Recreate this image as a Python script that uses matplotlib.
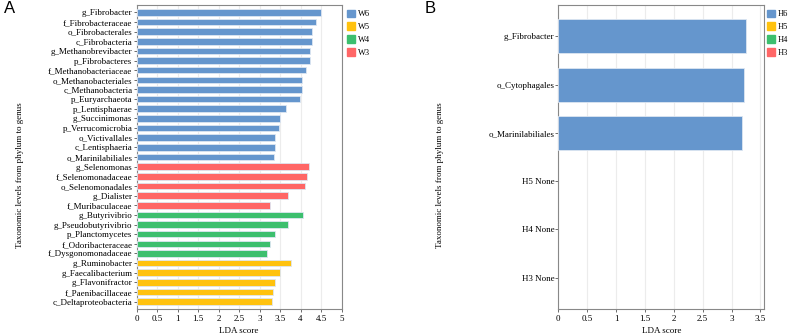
import matplotlib.pyplot as plt
from matplotlib.patches import Patch

# panel A data (top to bottom)
taxa_a = ["g_Fibrobacter", "f_Fibrobacteraceae", "o_Fibrobacterales", "c_Fibrobacteria",
          "g_Methanobrevibacter", "p_Fibrobacteres", "f_Methanobacteriaceae",
          "o_Methanobacteriales", "c_Methanobacteria", "p_Euryarchaeota", "p_Lentisphaerae",
          "g_Succinimonas", "p_Verrucomicrobia", "o_Victivallales", "c_Lentisphaeria",
          "o_Marinilabiliales",
          "g_Selenomonas", "f_Selenomonadaceae", "o_Selenomonadales", "g_Dialister",
          "f_Muribaculaceae",
          "g_Butyrivibrio", "g_Pseudobutyrivibrio", "p_Planctomycetes", "f_Odoribacteraceae",
          "f_Dysgonomonadaceae",
          "g_Ruminobacter", "g_Faecalibacterium", "g_Flavonifractor", "f_Paenibacillaceae",
          "c_Deltaproteobacteria"]
lda_a = [4.51, 4.38, 4.29, 4.27, 4.24, 4.22, 4.13, 4.04, 4.03, 3.98, 3.64, 3.51, 3.48,
         3.37, 3.37, 3.35,
         4.20, 4.16, 4.11, 3.69, 3.26,
         4.05, 3.69, 3.39, 3.26, 3.18,
         3.76, 3.49, 3.37, 3.34, 3.31]
group_a = ["W6"] * 16 + ["W3"] * 5 + ["W4"] * 5 + ["W5"] * 5
legend_a = ["W6", "W5", "W4", "W3"]

# panel B data
taxa_b = ["g_Fibrobacter", "o_Cytophagales", "o_Marinilabiliales", "H5 None", "H4 None", "H3 None"]
lda_b = [3.25, 3.21, 3.18, 0, 0, 0]
group_b = ["H6", "H6", "H6", "H5", "H4", "H3"]
legend_b = ["H6", "H5", "H4", "H3"]

palette = ["#6596CD", "#FFC20E", "#3CBF6E", "#FF6666"]

plt.rcParams['font.family'] = ['Liberation Serif', 'DejaVu Serif']

fig = plt.figure(figsize=(7.94, 3.34), dpi=100)
W, H = 794, 334


def panel(rect, taxa, vals, groups, legend_names, xmax, xticks, ylim, height, leg_x):
    ax = fig.add_axes([rect[0] / W, 1 - rect[3] / H, (rect[2] - rect[0]) / W, (rect[3] - rect[1]) / H])
    cmap = dict(zip(legend_names, palette))
    y = list(range(len(taxa)))
    ax.barh(y, vals, height=height, color=[cmap[g] for g in groups],
            edgecolor="#dde6f2", linewidth=[0.6 if v > 0 else 0 for v in vals], zorder=3)
    ax.set_yticks(y)
    ax.set_yticklabels(taxa, fontsize=6.5)
    ax.set_ylim(*ylim)
    ax.set_xlim(0, xmax)
    ax.set_xticks(xticks)
    ax.set_xticklabels([f"{t:g}" for t in xticks], fontsize=6.5)
    ax.grid(axis="x", color="#ececec", linewidth=0.8, zorder=0)
    ax.tick_params(axis="y", length=2, width=0.6, color="#555555", pad=1)
    ax.tick_params(axis="x", length=2, width=0.6, color="#555555", pad=2)
    for s in ax.spines.values():
        s.set_color("#888888")
        s.set_linewidth(0.8)
    ax.set_xlabel("LDA score", fontsize=6.5, labelpad=3)
    handles = [Patch(color=cmap[n], label=n) for n in legend_names]
    ax.legend(handles=handles, loc="upper left", bbox_to_anchor=(leg_x, 0.985),
              frameon=False, fontsize=6.0, handlelength=1.0, handleheight=1.05,
              handletextpad=0.3, labelspacing=0.5, borderaxespad=0, borderpad=0)
    return ax


ax_a = panel((136.5, 5, 341.5, 309), taxa_a, lda_a, group_a, legend_a, 5,
             [0, 0.5, 1, 1.5, 2, 2.5, 3, 3.5, 4, 4.5, 5], (30.76, -0.76), 0.68, 1.027)
ax_b = panel((558.3, 5, 764.5, 309), taxa_b, lda_b, group_b, legend_b, 3.57,
             [0, 0.5, 1, 1.5, 2, 2.5, 3, 3.5], (5.65, -0.65), 0.7, 1.01)

fig.text(20 / W, 0.5 - 8 / H, "Taxonomic levels from phylum to genus", rotation=90,
         ha="center", va="center", fontsize=6.5)
fig.text(440 / W, 0.5 - 8 / H, "Taxonomic levels from phylum to genus", rotation=90,
         ha="center", va="center", fontsize=6.5)
fig.text(4 / W, 1 - 1 / H, "A", fontsize=12, ha="left", va="top", family="Liberation Sans")
fig.text(425 / W, 1 - 1 / H, "B", fontsize=12, ha="left", va="top", family="Liberation Sans")

fig.savefig("out.png", dpi=100)
